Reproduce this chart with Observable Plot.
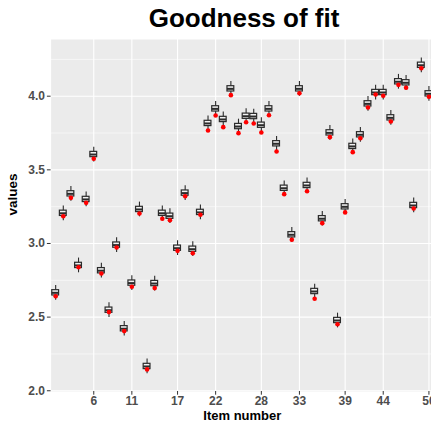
<!DOCTYPE html>
<html>
<head>
<meta charset="utf-8">
<script src="https://cdn.jsdelivr.net/npm/d3@7"></script>
<script src="https://cdn.jsdelivr.net/npm/@observablehq/plot@0.6"></script>
<style>
  html, body { margin: 0; padding: 0; background: #fff; overflow: hidden; width: 431px; height: 425px; }
  #wrap { position: relative; width: 431px; height: 425px; overflow: hidden; }
  #title { position: absolute; left: 244px; top: 0; transform: translateX(-50%); height: 37px; line-height: 37px;
           font-family: "Liberation Sans", Arial, sans-serif; font-weight: bold; font-size: 26px; color: #000; white-space: nowrap; }
  #chart { position: absolute; left: 0; top: 37px; width: 431px; height: 388px; overflow: hidden; }
  #chart svg { max-width: none !important; width: 437px !important; height: 388px !important; }
</style>
</head>
<body>
<div id="wrap">
<div id="title">Goodness of fit</div>
<div id="chart"></div>
</div>
<script>
const items = d3.range(1, 51);
const medians = [2.665,3.205,3.337,2.851,3.299,3.604,2.815,2.547,2.989,2.421,2.731,3.231,2.165,2.728,3.205,3.185,2.968,3.342,2.961,3.211,3.815,3.914,3.842,4.050,3.794,3.864,3.862,3.803,3.914,3.677,3.375,3.059,4.050,3.394,2.674,3.168,3.751,2.477,3.249,3.659,3.738,3.948,4.025,4.025,3.853,4.098,4.091,3.258,4.210,4.016];
const observed = [2.642,3.185,3.310,2.839,3.276,3.575,2.796,2.534,2.973,2.405,2.706,3.204,2.145,2.697,3.168,3.158,2.950,3.321,2.934,3.195,3.767,3.869,3.790,4.007,3.749,3.823,3.815,3.754,3.871,3.625,3.335,3.025,4.020,3.355,2.625,3.138,3.722,2.452,3.211,3.620,3.715,3.923,4.012,4.003,3.828,4.077,4.057,3.238,4.190,3.996];
const q1 = [2.647,3.187,3.319,2.833,3.281,3.586,2.797,2.529,2.971,2.403,2.713,3.213,2.147,2.710,3.187,3.167,2.950,3.324,2.943,3.193,3.797,3.896,3.824,4.032,3.776,3.846,3.844,3.785,3.896,3.659,3.357,3.041,4.032,3.376,2.656,3.150,3.733,2.459,3.231,3.641,3.720,3.930,4.007,4.007,3.835,4.080,4.073,3.240,4.192,3.998];
const q3 = [2.683,3.223,3.355,2.869,3.317,3.622,2.833,2.565,3.007,2.439,2.749,3.249,2.183,2.746,3.223,3.203,2.986,3.360,2.979,3.229,3.833,3.932,3.860,4.068,3.812,3.882,3.880,3.821,3.932,3.695,3.393,3.077,4.068,3.412,2.692,3.186,3.769,2.495,3.267,3.677,3.756,3.966,4.043,4.043,3.871,4.116,4.109,3.276,4.228,4.034];
const whiskerLow = [2.615,3.155,3.287,2.801,3.249,3.554,2.765,2.497,2.939,2.371,2.681,3.181,2.115,2.678,3.155,3.135,2.918,3.292,2.911,3.161,3.765,3.864,3.792,4.000,3.744,3.814,3.812,3.753,3.864,3.627,3.325,3.009,4.000,3.344,2.624,3.118,3.701,2.427,3.199,3.609,3.688,3.898,3.975,3.975,3.803,4.048,4.041,3.208,4.160,3.966];
const whiskerHigh = [2.715,3.255,3.387,2.901,3.349,3.654,2.865,2.597,3.039,2.471,2.781,3.281,2.215,2.778,3.255,3.235,3.018,3.392,3.011,3.261,3.865,3.964,3.892,4.100,3.844,3.914,3.912,3.853,3.964,3.727,3.425,3.109,4.100,3.444,2.724,3.218,3.801,2.527,3.299,3.709,3.788,3.998,4.075,4.075,3.903,4.148,4.141,3.308,4.260,4.066];
const xTicks = [6, 11, 17, 22, 28, 33, 39, 44, 50];
const yTicks = [2.0, 2.5, 3.0, 3.5, 4.0];
const yMinor = [2.25, 2.75, 3.25, 3.75, 4.25];

const data = items.map((item, i) => ({
  item, med: medians[i], obs: observed[i], q1: q1[i], q3: q3[i], lo: whiskerLow[i], hi: whiskerHigh[i]
}));

const font = "'Liberation Sans', Arial, sans-serif";
const chart = Plot.plot({
  width: 437,
  height: 388,
  marginLeft: 50.6,
  marginRight: 4,
  marginTop: 2,
  marginBottom: 34,
  style: { fontFamily: font, background: "transparent", maxWidth: "none" },
  x: { type: "band", domain: items, paddingInner: 0, paddingOuter: 0.1, align: 0.5 },
  y: { domain: [1.995, 4.385] },
  marks: [
    Plot.frame({ fill: "#ebebeb", stroke: null }),
    Plot.ruleY(yMinor, { stroke: "#ffffff", strokeWidth: 0.55 }),
    Plot.ruleY(yTicks, { stroke: "#ffffff", strokeWidth: 1.1 }),
    Plot.ruleX(xTicks, { x: d => d, stroke: "#ffffff", strokeWidth: 1.1 }),
    Plot.axisX({ ticks: xTicks, tickSize: 3.7, tickPadding: 1.5, fontSize: 12, fontWeight: "bold", fill: "#4d4d4d", stroke: "#333333", label: null }),
    Plot.axisY({ ticks: yTicks, tickFormat: d3.format(".1f"), tickSize: 3.7, tickPadding: 2.5, fontSize: 12, fontWeight: "bold", fill: "#4d4d4d", stroke: "#333333", label: null }),
    Plot.ruleX(data, { x: "item", y1: "lo", y2: "hi", stroke: "#2b2b2b", strokeWidth: 1.1 }),
    Plot.barY(data, { x: "item", y1: "q1", y2: "q3", fill: "#f2f2f2", stroke: "#2b2b2b", strokeWidth: 1.2, insetLeft: 0.4, insetRight: 0.4 }),
    Plot.tickY(data, { x: "item", y: "med", stroke: "#2b2b2b", strokeWidth: 2, insetLeft: 0.4, insetRight: 0.4 }),
    Plot.dot(data, { x: "item", y: "obs", fill: "#ff0000", stroke: null, r: 2.3 }),
    Plot.text(["Item number"], { frameAnchor: "bottom", dy: 19, lineAnchor: "top", fontSize: 13, fontWeight: "bold", fill: "#000" }),
    Plot.text(["values"], { frameAnchor: "left", dx: -38, rotate: -90, fontSize: 13.5, fontWeight: "bold", fill: "#000" })
  ]
});
document.getElementById("chart").appendChild(chart);
</script>
</body>
</html>
